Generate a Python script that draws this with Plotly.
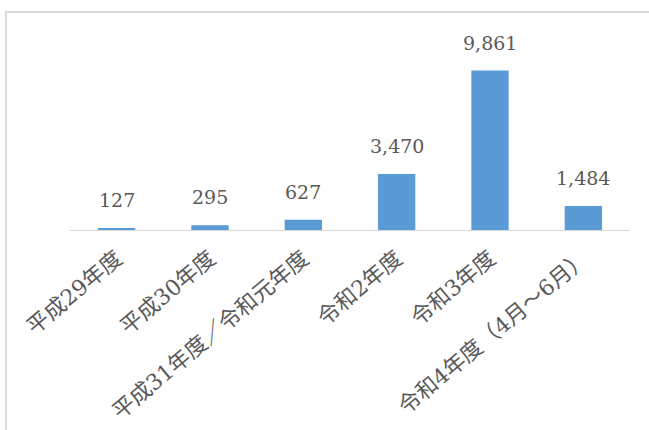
import plotly.graph_objects as go

categories = ["平成29年度", "平成30年度", "平成31年度／令和元年度", "令和2年度", "令和3年度", "令和4年度（4月～6月）"]
values = [127, 295, 627, 3470, 9861, 1484]
value_labels = ["127", "295", "627", "3,470", "9,861", "1,484"]

W, H = 649, 430
L, R, T, B = 70, 19, 36, 200

FONT = "DejaVu Serif, Noto Sans CJK JP"

fig = go.Figure()
fig.add_trace(go.Bar(x=categories, y=values, marker_color="#5b9bd5", width=0.4,
                     marker_line_width=0, hoverinfo="skip"))

for c, v, t in zip(categories, values, value_labels):
    fig.add_annotation(x=c, y=v, text=t, showarrow=False, yanchor="bottom", yshift=15,
                       font=dict(family=FONT, size=19, color="#595959"))

pw = W - L - R
ph = H - T - B
x0 = (6 - L) / pw
y1 = (H - B - 12) / ph
fig.add_shape(type="rect", xref="paper", yref="paper", x0=x0, x1=1.3, y0=-1.5, y1=y1,
              line=dict(color="#d9d9d9", width=2), fillcolor="rgba(0,0,0,0)", layer="below")

fig.update_layout(
    width=W, height=H, margin=dict(l=L, r=R, t=T, b=B, autoexpand=False),
    paper_bgcolor="white", plot_bgcolor="white", showlegend=False,
    bargap=0.6,
    xaxis=dict(showline=True, linecolor="#d9d9d9", linewidth=1, showgrid=False, ticks="",
               tickangle=-40, ticklabelstandoff=6, automargin=False,
               tickfont=dict(family=FONT, size=22, color="#595959")),
    yaxis=dict(range=[0, 12000], visible=False, showgrid=False, automargin=False),
)

fig.write_html("out.html", config={"displayModeBar": False},
               post_script="document.body.style.margin='0';document.body.style.padding='0';")
